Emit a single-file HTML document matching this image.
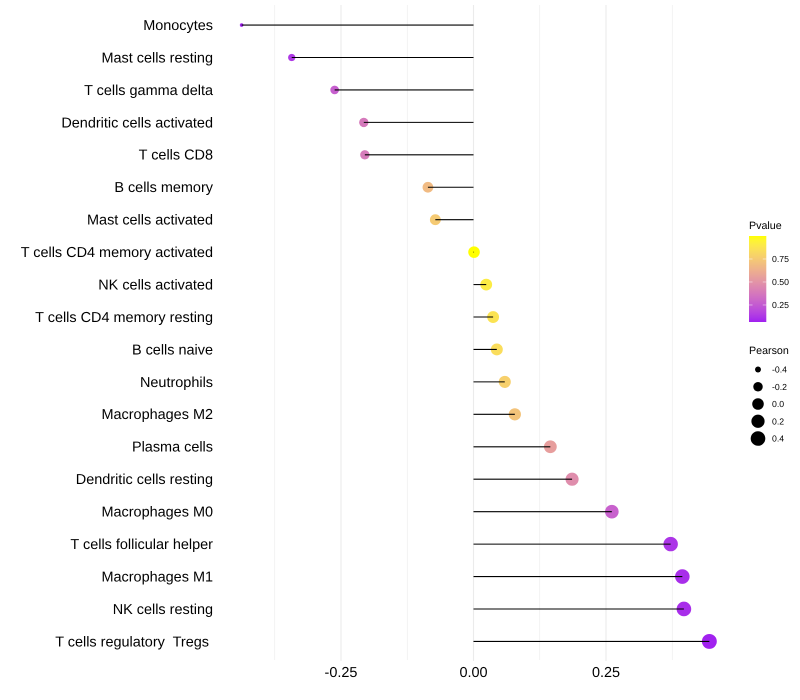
<!DOCTYPE html>
<html>
<head>
<meta charset="utf-8">
<title>Lollipop chart of immune cell correlation</title>
<style>
html,body{margin:0;padding:0;background:#fff;width:800px;height:700px;overflow:hidden}
svg{display:block;font-family:"Liberation Sans",Arial,sans-serif;text-rendering:geometricPrecision}
text{white-space:pre}
</style>
</head>
<body>
<svg id="chart" xmlns="http://www.w3.org/2000/svg" width="800" height="700" viewBox="0 0 800 700" xml:space="preserve">
<defs><linearGradient id="pg" x1="0" y1="1" x2="0" y2="0"></linearGradient></defs>
<rect x="0" y="0" width="800" height="700" fill="#fff"></rect>
<text x="749" y="229" font-size="10.7" fill="#000">Pvalue</text>
<text x="749" y="354" font-size="10.7" fill="#000">Pearson</text>
</svg>
<script>
const categories = ["Monocytes","Mast cells resting","T cells gamma delta","Dendritic cells activated","T cells CD8","B cells memory","Mast cells activated","T cells CD4 memory activated","NK cells activated","T cells CD4 memory resting","B cells naive","Neutrophils","Macrophages M2","Plasma cells","Dendritic cells resting","Macrophages M0","T cells follicular helper","Macrophages M1","NK cells resting","T cells regulatory  Tregs "];
const pearson = [-0.4375,-0.343,-0.262,-0.207,-0.205,-0.086,-0.072,0.001,0.024,0.037,0.044,0.059,0.078,0.145,0.186,0.261,0.372,0.394,0.397,0.445];
const pvalue = [0.07,0.13,0.27,0.38,0.39,0.68,0.75,1.0,0.91,0.87,0.84,0.78,0.72,0.55,0.47,0.28,0.12,0.1,0.1,0.07];
const xMajorTicks = [-0.25,0,0.25];
const xMajorLabels = ["-0.25","0.00","0.25"];
const xMinorTicks = [-0.375,-0.125,0.125,0.375];
const pLegendTicks = [0.25,0.5,0.75];
const pLegendLabels = ["0.25","0.50","0.75"];
const sizeLegendValues = [-0.4,-0.2,0,0.2,0.4];
const sizeLegendLabels = ["-0.4","-0.2","0.0","0.2","0.4"];

const svg = document.getElementById('chart');
const NS = 'http://www.w3.org/2000/svg';
const xScale = v => 473.5 + 530 * v;
const yScale = i => 25.06 + 32.44 * i;
const pMin = Math.min(...pvalue), pMax = Math.max(...pvalue);
const minP = Math.min(pMin, 0.065);
const pBar = p => 322 - (p - minP) / (pMax - minP) * 86;
const sMin = Math.min(...pearson), sMax = Math.max(...pearson);
const radius = v => 1.8 + 5.65 * Math.sqrt(Math.max(0, (v - sMin) / (sMax - sMin)));

function rgb2lab(c){
  const f = c.map(u => { u /= 255; return u > 0.04045 ? Math.pow((u + 0.055) / 1.055, 2.4) : u / 12.92; });
  const X = (0.4124*f[0] + 0.3576*f[1] + 0.1805*f[2]) / 0.95047;
  const Y = 0.2126*f[0] + 0.7152*f[1] + 0.0722*f[2];
  const Z = (0.0193*f[0] + 0.1192*f[1] + 0.9505*f[2]) / 1.08883;
  const g = t => t > 0.008856 ? Math.cbrt(t) : 7.787*t + 16/116;
  return [116*g(Y) - 16, 500*(g(X) - g(Y)), 200*(g(Y) - g(Z))];
}
function lab2rgb(l){
  const fy = (l[0] + 16) / 116, fx = l[1] / 500 + fy, fz = fy - l[2] / 200;
  const h = t => t*t*t > 0.008856 ? t*t*t : (t - 16/116) / 7.787;
  const X = h(fx)*0.95047, Y = h(fy), Z = h(fz)*1.08883;
  const r = [3.2406*X - 1.5372*Y - 0.4986*Z, -0.9689*X + 1.8758*Y + 0.0415*Z, 0.0557*X - 0.2040*Y + 1.0570*Z];
  return r.map(u => {
    u = Math.max(0, Math.min(1, u));
    u = u > 0.0031308 ? 1.055*Math.pow(u, 1/2.4) - 0.055 : 12.92*u;
    return Math.round(u*255);
  });
}
const labLow = rgb2lab([160,32,240]);
const labHigh = rgb2lab([255,255,0]);
function pColor(p){
  const t = Math.max(0, Math.min(1, (p - minP) / (pMax - minP)));
  const c = lab2rgb(labLow.map((v, i) => v + (labHigh[i] - v) * t));
  return 'rgb(' + c.join(',') + ')';
}
function make(tag, attrs, parent){
  const el = document.createElementNS(NS, tag);
  for (const k in attrs) el.setAttribute(k, attrs[k]);
  (parent || svg).appendChild(el);
  return el;
}

xMinorTicks.forEach(v => {
  const el = make('line', {x1:xScale(v), x2:xScale(v), y1:5, y2:660, stroke:'#ebebeb', 'stroke-width':0.55});
  
  
});
xMajorTicks.forEach((v, i) => {
  const el = make('line', {x1:xScale(v), x2:xScale(v), y1:5, y2:661, stroke:'#ebebeb', 'stroke-width':1.07});
  
  
  const t = make('text', {x:xScale(v), y:677, 'text-anchor':'middle', 'font-size':14.45, fill:'#000'});
  t.textContent = xMajorLabels[i];
  
  
});
categories.forEach((name, i) => {
  const t = make('text', {x:213, y:yScale(i) + 4.9, 'text-anchor':'end', 'font-size':14.45, fill:'#000'});
  t.textContent = name;
  
  
});
pearson.forEach((v, i) => {
  const c = make('circle', {cx:xScale(v), cy:yScale(i), r:radius(v), fill:pColor(pvalue[i])});
  
  
});
pearson.forEach((v, i) => {
  const l = make('line', {x1:xScale(0), x2:xScale(v), y1:yScale(i), y2:yScale(i), stroke:'#000', 'stroke-width':1.07});
  
  
});

const grad = document.getElementById('pg');
for (let k = 0; k <= 20; k++) {
  const s = document.createElementNS(NS, 'stop');
  s.setAttribute('offset', (k / 20 * 100) + '%');
  s.setAttribute('stop-color', pColor(minP + (pMax - minP) * k / 20));
  grad.appendChild(s);
}
const bar = make('rect', {x:749, y:236, width:17.3, height:86, fill:'url(#pg)'});


pLegendTicks.forEach((p, i) => {
  const y = pBar(p);
  const a = make('line', {x1:749, x2:752.5, y1:y, y2:y, stroke:'#fff', 'stroke-width':0.6, opacity:0.8});
  
  
  const b = make('line', {x1:762.8, x2:766.3, y1:y, y2:y, stroke:'#fff', 'stroke-width':0.6, opacity:0.8});
  
  
  const t = make('text', {x:772, y:y + 3, 'font-size':8.7, fill:'#000'});
  t.textContent = pLegendLabels[i];
  
  
});
sizeLegendValues.forEach((v, i) => {
  const y = 369.5 + 17.25 * i;
  const c = make('circle', {cx:758, cy:y, r:radius(v), fill:'#000'});
  
  
  const t = make('text', {x:772, y:y + 3, 'font-size':8.7, fill:'#000'});
  t.textContent = sizeLegendLabels[i];
  
  
});
</script>
</body>
</html>
